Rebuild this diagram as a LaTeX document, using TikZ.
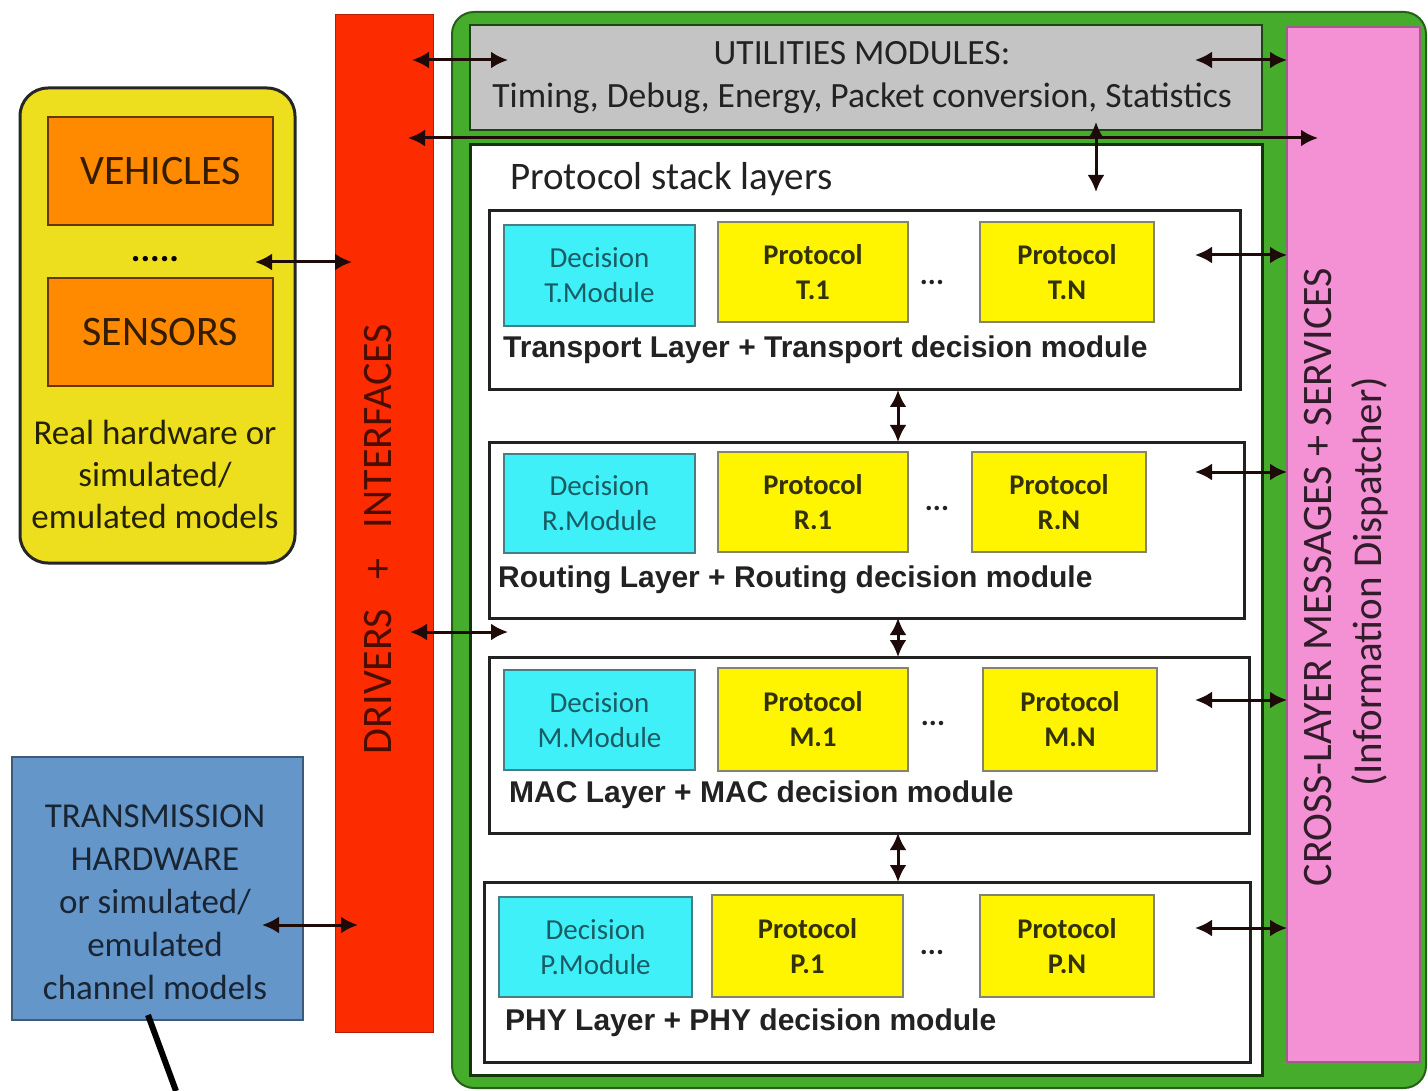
\documentclass[tikz,border=0pt]{standalone}
\usepackage{fontspec}
\setmainfont{Carlito}
\newfontfamily\arialfont{Liberation Sans}
\usetikzlibrary{arrows.meta}
\definecolor{yellowbg}{HTML}{EEDF1E}
\definecolor{orangebx}{HTML}{FF8A00}
\definecolor{redbar}{HTML}{FC2C00}
\definecolor{greenfr}{HTML}{45AD2B}
\definecolor{greybx}{HTML}{C4C4C4}
\definecolor{pinkbx}{HTML}{F490D4}
\definecolor{cyanbx}{HTML}{40F0F8}
\definecolor{protoy}{HTML}{FFF500}
\definecolor{bluebx}{HTML}{6596C9}
\definecolor{arrowc}{HTML}{1E0A08}
\definecolor{tealtxt}{HTML}{1A5C64}
\definecolor{olivetxt}{HTML}{333108}
\definecolor{darktxt}{HTML}{222222}
\begin{document}
\begin{tikzpicture}[x=1pt,y=-1pt,
  bx/.style={inner sep=0pt, outer sep=0pt},
  arr/.style={{Latex[length=17pt,width=17pt]}-{Latex[length=17pt,width=17pt]}, line width=3pt, draw=arrowc},
  decbox/.style={bx, fill=cyanbx, draw=tealtxt!80, line width=1.5pt, align=center, text=tealtxt,
     font=\fontsize{29}{35}\selectfont},
  protobox/.style={bx, fill=protoy, draw=olivetxt!60, line width=1.5pt, align=center, text=olivetxt,
     font=\fontsize{28.5}{35}\selectfont\bfseries},
  layerbox/.style={bx, draw=darktxt, line width=3pt, fill=white},
  layerlabel/.style={anchor=west, inner sep=0pt, text=darktxt,
     font=\arialfont\bfseries\fontsize{30}{36}\selectfont},
  dotslbl/.style={inner sep=0pt, text=darktxt, font=\fontsize{30}{36}\selectfont\bfseries}
]
\useasboundingbox (0,0) rectangle (1428,1091);
\fill[white] (0,0) rectangle (1428,1091);

% left side: devices
\node[bx, fill=yellowbg, draw=black!85, line width=3pt, rounded corners=28pt,
  minimum width=275, minimum height=475] (dev) at (157.5,325.5) {};
\node[bx, fill=orangebx, draw=black!60!orangebx, line width=1.5pt, minimum width=225, minimum height=108,
  text=black!80!orangebx, font=\fontsize{42}{50}\selectfont] (veh) at (160.5,171) {VEHICLES};
\node[bx, fill=orangebx, draw=black!60!orangebx, line width=1.5pt, minimum width=225, minimum height=108,
  text=black!80!orangebx, font=\fontsize{42}{50}\selectfont] (sen) at (160.5,332) {SENSORS};
\node[inner sep=0pt, text=black, font=\fontsize{36}{36}\selectfont\bfseries] (dots0) at (155,259) {.....};
\node[inner sep=0pt, align=center, text=black!85!yellowbg, font=\fontsize{35}{42}\selectfont] (devtxt) at (155,474)
  {Real hardware or\\simulated/\\emulated models};

\node[bx, fill=bluebx, draw=black!40!bluebx, line width=1.5pt, minimum width=291, minimum height=263] (tx) at (157.5,888.5) {};
\node[inner sep=0pt, align=center, text=black!75!bluebx, font=\fontsize{35}{43}\selectfont] (txtxt) at (155,902)
  {TRANSMISSION\\HARDWARE\\or simulated/\\emulated\\channel models};

% red bar
\node[bx, fill=redbar, draw=black!30!redbar, line width=1pt, minimum width=98, minimum height=1017] (drv) at (384,523.5) {};
\node[inner sep=0pt, rotate=90, text=black!70!redbar, font=\fontsize{42}{50}\selectfont] (drvtxt) at (378,539)
  {DRIVERS\hspace{30pt}+\hspace{30pt}INTERFACES};

% green frame
\node[bx, fill=greenfr, draw=black!45!greenfr, line width=2pt, rounded corners=22pt,
  minimum width=974, minimum height=1076] (frame) at (939,550) {};
\node[bx, fill=greybx, draw=black!60!greenfr, line width=2pt, minimum width=792, minimum height=105] (util) at (866,77.5) {};
\node[inner sep=0pt, align=center, text=darktxt, font=\fontsize{35.5}{43}\selectfont] (utiltxt) at (862,78)
  {UTILITIES MODULES:\\Timing, Debug, Energy, Packet conversion, Statistics};
\node[bx, fill=white, draw=black!70!greenfr, line width=3pt, minimum width=792, minimum height=930] (stack) at (866,610) {};
\node[anchor=west, inner sep=0pt, text=darktxt, font=\fontsize{39}{46}\selectfont] (stacktxt) at (510,179) {Protocol stack layers};

\node[bx, fill=pinkbx, draw=black!35!pinkbx, line width=1.5pt, minimum width=133, minimum height=1035] (xl) at (1353.5,544.5) {};
\node[inner sep=0pt, rotate=90, text=black!80!pinkbx, font=\fontsize{42}{50}\selectfont] (xltxt) at (1318,577)
  {CROSS-LAYER MESSAGES + SERVICES};
\node[inner sep=0pt, rotate=90, text=black!80!pinkbx, font=\fontsize{41}{50}\selectfont] (xltxt2) at (1370,582)
  {(Information Dispatcher)};

% layers
\node[layerbox, minimum width=751, minimum height=179] (LT) at (864.5,300.5) {};
\node[layerbox, minimum width=755, minimum height=176] (LR) at (866.5,530) {};
\node[layerbox, minimum width=760, minimum height=176] (LM) at (869,745) {};
\node[layerbox, minimum width=766, minimum height=180] (LP) at (867,972) {};

\node[decbox, minimum width=191, minimum height=101] (DT) at (599.5,275.5) {Decision\\T.Module};
\node[protobox, minimum width=190, minimum height=100] (PT1) at (813,272) {Protocol\\T.1};
\node[protobox, minimum width=174, minimum height=100] (PTN) at (1067,272) {Protocol\\T.N};
\node[dotslbl] (dT) at (932,282) {...};
\node[layerlabel] (labT) at (503,350) {Transport Layer + Transport decision module};

\node[decbox, minimum width=191, minimum height=99] (DR) at (599.5,503.5) {Decision\\R.Module};
\node[protobox, minimum width=190, minimum height=100] (PR1) at (813,502) {Protocol\\R.1};
\node[protobox, minimum width=174, minimum height=100] (PRN) at (1059,502) {Protocol\\R.N};
\node[dotslbl] (dR) at (937,508) {...};
\node[layerlabel] (labR) at (498,580) {Routing Layer + Routing decision module};

\node[decbox, minimum width=191, minimum height=100] (DM) at (599.5,720) {Decision\\M.Module};
\node[protobox, minimum width=190, minimum height=103] (PM1) at (813,719.5) {Protocol\\M.1};
\node[protobox, minimum width=174, minimum height=103] (PMN) at (1070,719.5) {Protocol\\M.N};
\node[dotslbl] (dM) at (933,723) {...};
\node[layerlabel] (labM) at (509,795) {MAC Layer + MAC decision module};

\node[decbox, minimum width=193, minimum height=100] (DP) at (595.5,947) {Decision\\P.Module};
\node[protobox, minimum width=191, minimum height=102] (PP1) at (807.5,946) {Protocol\\P.1};
\node[protobox, minimum width=174, minimum height=102] (PPN) at (1067,946) {Protocol\\P.N};
\node[dotslbl] (dP) at (932,952) {...};
\node[layerlabel] (labP) at (505,1023) {PHY Layer + PHY decision module};

% connector end points
\coordinate (vx) at (898,0);
\coordinate (aDev) at (255,262);
\coordinate (aDevR) at (352,262);
\coordinate (aTx) at (262,925);
\coordinate (aTxR) at (358,925);
\coordinate (aU1) at (412,60);
\coordinate (aU1R) at (508,60);
\coordinate (aU2) at (1195,60);
\coordinate (aLong) at (408,138);
\coordinate (aLongR) at (1318,138);
\coordinate (aS1) at (410,632);
\coordinate (aS1R) at (508,632);
\coordinate (aV1) at (1096,122);
\coordinate (aV2) at (1096,192);
\coordinate (rT) at (1195,255);
\coordinate (rR) at (1195,472);
\coordinate (rM) at (1195,700);
\coordinate (rP) at (1195,928);

\draw[arr] (aDev) -- (aDevR);
\draw[arr] (aTx) -- (aTxR);
\draw[arr] (aU1) -- (aU1R);
\draw[arr] (aU2) -- (aU2 -| xl.west);
\draw[arr] (aLong) -- (aLongR);
\draw[arr] (aS1) -- (aS1R);
\draw[arr] (aV1) -- (aV2);
\draw[arr] (LT.south -| vx) -- (LR.north -| vx);
\draw[arr] (LR.south -| vx) -- (LM.north -| vx);
\draw[arr] (LM.south -| vx) -- (LP.north -| vx);
\draw[arr] (rT) -- (rT -| xl.west);
\draw[arr] (rR) -- (rR -| xl.west);
\draw[arr] (rM) -- (rM -| xl.west);
\draw[arr] (rP) -- (rP -| xl.west);

% stray pointer line
\coordinate (ptrStart) at (148,1015);
\coordinate (ptrEnd) at (176,1091);
\draw[line width=6pt, black] (ptrStart) -- (ptrEnd);
\end{tikzpicture}
\end{document}
